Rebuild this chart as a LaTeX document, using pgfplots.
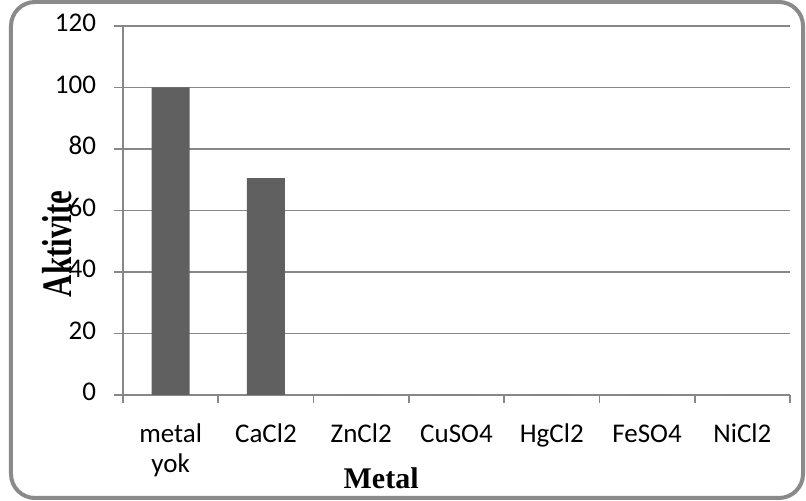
\documentclass[border=0pt]{standalone}
\usepackage{graphicx}
\usepackage{pgfplots}
\pgfplotsset{compat=1.18}
\usepackage{fontspec}
\setmainfont{Liberation Serif}
\newfontfamily\carlito{Carlito}
\definecolor{bargray}{HTML}{606060}
\definecolor{gridgray}{HTML}{878787}
\definecolor{framegray}{HTML}{8A8A8A}
\begin{document}
\begin{tikzpicture}
\useasboundingbox (-61.5pt,-53pt) rectangle (341.5pt,197.5pt);
\draw[framegray, line width=2pt, rounded corners=12pt] (-56pt,-51.5pt) rectangle (340pt,196.5pt);
\begin{axis}[
  at={(0,0)}, anchor=south west,
  scale only axis, width=333.5pt, height=184.5pt,
  xmin=-0.5, xmax=6.5, ymin=0, ymax=120,
  ytick={0,20,...,120},
  xtick={0,...,6},
  xticklabels={{metal\\yok},CaCl2,ZnCl2,CuSO4,HgCl2,FeSO4,NiCl2},
  minor xtick={-0.5,0.5,...,6.5},
  xtick pos=bottom, ytick pos=left,
  tick align=outside,
  major tick length=4.5pt, minor tick length=4pt,
  tick style={draw=gridgray, line width=0.8pt},
  major x tick style={draw=none},
  axis x line*=bottom, axis y line*=left,
  axis line style={draw=gridgray, line width=0.8pt},
  ymajorgrids, major grid style={draw=gridgray, line width=0.8pt},
  ybar, bar width=19pt,
  /pgf/number format/assume math mode=true,
  typeset ticklabels with strut,
  tick label style={font=\carlito\fontsize{13.5}{15}\selectfont},
  xticklabel style={align=center, yshift=-5pt},
  yticklabel style={anchor=east, xshift=-5.5pt},
  xlabel={Metal},
  xlabel style={at={(axis description cs:0.387,-0.225)}, anchor=center, font=\fontsize{15}{18}\selectfont\bfseries},
  ylabel={\scalebox{1.03}[1.4]{Aktivite}},
  ylabel style={at={(axis description cs:-0.099,0.409)}, anchor=center, font=\fontsize{15}{18}\selectfont\bfseries},
]
\addplot[fill=bargray, draw=none] coordinates {(0,100) (1,70.5) (2,0) (3,0) (4,0) (5,0) (6,0)};
\end{axis}
\end{tikzpicture}
\end{document}
